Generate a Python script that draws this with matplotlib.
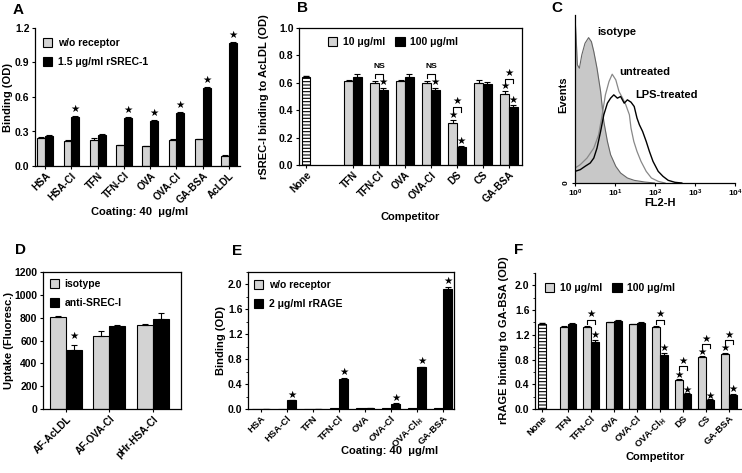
import matplotlib
matplotlib.use('Agg')
import matplotlib.pyplot as plt
import numpy as np
from matplotlib.patches import Patch
from matplotlib.ticker import MultipleLocator, FixedLocator

plt.rcParams['font.family'] = ['Liberation Sans', 'DejaVu Sans']
plt.rcParams['font.weight'] = 'bold'
plt.rcParams['axes.labelweight'] = 'bold'
plt.rcParams['font.size'] = 7.5
plt.rcParams['mathtext.fontset'] = 'custom'
plt.rcParams['mathtext.rm'] = 'Liberation Sans:bold'
plt.rcParams['mathtext.bf'] = 'Liberation Sans:bold'
plt.rcParams['mathtext.default'] = 'rm'
plt.rcParams['hatch.linewidth'] = 0.8
plt.rcParams['axes.linewidth'] = 0.9

GRAY = '#d3d3d3'

# ---- panel A
a_cats = ['HSA', 'HSA-Cl', 'TFN', 'TFN-Cl', 'OVA', 'OVA-Cl', 'GA-BSA', 'AcLDL']
a_ctrl = [0.24, 0.22, 0.23, 0.18, 0.17, 0.225, 0.235, 0.09]
a_ctrl_err = [0.008, 0.006, 0.012, 0.004, 0.004, 0.006, 0.004, 0.003]
a_rec = [0.26, 0.43, 0.27, 0.42, 0.39, 0.465, 0.68, 1.07]
a_rec_err = [0.006, 0.008, 0.006, 0.01, 0.01, 0.008, 0.006, 0.012]
a_star = [None, 0.50, None, 0.49, 0.46, 0.53, 0.75, 1.14]

# ---- panel B
b_cats = ['None', 'TFN', 'TFN-Cl', 'OVA', 'OVA-Cl', 'DS', 'CS', 'GA-BSA']
b_none, b_none_err = 0.64, 0.01
b_lo = [0.61, 0.60, 0.61, 0.60, 0.31, 0.60, 0.52]
b_lo_err = [0.012, 0.015, 0.012, 0.015, 0.02, 0.022, 0.02]
b_hi = [0.64, 0.55, 0.64, 0.55, 0.135, 0.59, 0.42]
b_hi_err = [0.025, 0.015, 0.025, 0.015, 0.004, 0.015, 0.02]

# ---- panel C (log10 FL2-H, events)
iso_log = [0, 0, 0.025, 0.06, 0.11, 0.17, 0.25, 0.34, 0.41, 0.47, 0.55, 0.64, 0.72,
           0.81, 0.89, 1.02, 1.14, 1.31, 1.48, 1.74, 1.99]
iso_ev = [0, 500, 445, 355, 345, 385, 420, 437, 425, 395, 345, 275, 185,
          125, 85, 50, 30, 15, 8, 3, 0]
unt_log = [0, 0.13, 0.30, 0.47, 0.59, 0.68, 0.76, 0.85, 0.93, 1.02, 1.10, 1.19, 1.27,
           1.36, 1.40, 1.47, 1.55, 1.65, 1.78, 1.91, 2.08, 2.25]
unt_ev = [45, 55, 75, 105, 145, 205, 265, 305, 327, 310, 275, 255, 235,
          205, 165, 125, 95, 65, 35, 15, 5, 0]
lps_log = [0, 0.13, 0.25, 0.38, 0.47, 0.55, 0.64, 0.72, 0.81, 0.89, 0.97, 1.06, 1.14,
           1.23, 1.31, 1.40, 1.48, 1.55, 1.61, 1.69, 1.78, 1.86, 1.95, 2.08, 2.20,
           2.33, 2.50, 2.67]
lps_ev = [35, 40, 50, 60, 75, 105, 155, 205, 240, 255, 265, 255, 260,
          240, 250, 243, 230, 195, 175, 155, 125, 95, 65, 35, 20,
          8, 2, 0]

# ---- panel D
d_cats = ['AF-AcLDL', 'AF-OVA-Cl', 'pHr-HSA-Cl']
d_iso = [810, 640, 740]
d_iso_err = [6, 45, 8]
d_anti = [515, 730, 790]
d_anti_err = [45, 8, 55]

# ---- panel E
e_cats = ['HSA', 'HSA-Cl', 'TFN', 'TFN-Cl', 'OVA', 'OVA-Cl', 'OVA-Cl$_{H}$', 'GA-BSA']
e_ctrl = [0.005, 0.008, 0.005, 0.01, 0.01, 0.015, 0.01, 0.02]
e_rec = [0.005, 0.14, 0.005, 0.48, 0.02, 0.08, 0.67, 1.93]
e_rec_err = [0.002, 0.005, 0.002, 0.02, 0.003, 0.01, 0.01, 0.03]
e_star = [None, 0.22, None, 0.60, None, 0.18, 0.77, 2.06]

# ---- panel F
f_cats = ['None', 'TFN', 'TFN-Cl', 'OVA', 'OVA-Cl', 'OVA-Cl$_{H}$', 'DS', 'CS', 'GA-BSA']
f_none, f_none_err = 1.38, 0.01
f_lo = [1.33, 1.33, 1.40, 1.37, 1.32, 0.47, 0.84, 0.89]
f_lo_err = [0.01, 0.015, 0.015, 0.01, 0.03, 0.01, 0.01, 0.01]
f_hi = [1.38, 1.09, 1.43, 1.39, 0.88, 0.25, 0.15, 0.23]
f_hi_err = [0.015, 0.02, 0.01, 0.01, 0.02, 0.01, 0.005, 0.01]

W, H = 742, 473
fig = plt.figure(figsize=(W / 100, H / 100), dpi=100)


def px_axes(l, t, r, b):
    return fig.add_axes([l / W, 1 - b / H, (r - l) / W, (b - t) / H])


def label_at(ax, axis, px, py):
    # ylabel: px is the label's right edge; xlabel: py is the label's top
    x, y = ax.transAxes.inverted().transform((px, H - py))
    if axis == 'x':
        ax.xaxis.set_label_coords(x, y)
    else:
        ax.yaxis.set_label_coords(x, y)


def style(ax, box=True):
    ax.tick_params(direction='out', length=2.5, width=0.8, pad=1.5, labelsize=7.5)
    ax.tick_params(axis='x', pad=1.0)
    ax.tick_params(which='minor', direction='out', length=1.5, width=0.6)
    if not box:
        ax.spines['top'].set_visible(False)
        ax.spines['right'].set_visible(False)


def bars(ax, x, vals, errs, color, w):
    ax.bar(x, vals, w, color=color, edgecolor='k', linewidth=0.8)
    if errs is not None:
        ax.errorbar(x, vals, yerr=[np.zeros(len(vals)), errs], fmt='none',
                    ecolor='k', elinewidth=0.8, capsize=2, capthick=0.8)


def star(ax, x, y):
    ax.text(x, y, '★', ha='center', va='center', fontsize=7.5, family='DejaVu Sans')


def bracket(ax, x1, x2, y, h):
    ax.plot([x1, x1, x2, x2], [y - h, y, y, y - h], color='k', lw=0.8)


def xcats(ax, pos, cats, size=7.2):
    ax.set_xticks(pos)
    ax.set_xticklabels(cats, rotation=45, ha='right', rotation_mode='anchor', fontsize=size)


def legend(ax, labels, colors, ncol, px, py, spacing):
    handles = [Patch(facecolor=c, edgecolor='k', linewidth=0.8) for c in colors]
    x, y = ax.transAxes.inverted().transform((px, H - py))
    ax.legend(handles, labels, loc='upper left', bbox_to_anchor=(x, y), frameon=False,
              ncol=ncol, handlelength=0.9, handleheight=0.9, handletextpad=0.5,
              labelspacing=spacing, columnspacing=1.0, borderpad=0, borderaxespad=0,
              fontsize=7.5)


# ================= A
ax = px_axes(35, 28, 240, 166)
style(ax, box=False)
xa = np.arange(len(a_cats))
bars(ax, xa - 0.15, a_ctrl, a_ctrl_err, GRAY, 0.3)
bars(ax, xa + 0.15, a_rec, a_rec_err, 'k', 0.3)
for i, s in enumerate(a_star):
    if s is not None:
        star(ax, xa[i] + 0.15, s)
ax.set_xlim(-0.39, 7.42)
ax.set_ylim(0, 1.2)
ax.set_yticks([0, 0.3, 0.6, 0.9, 1.2])
ax.set_yticklabels(['0.0', '0.3', '0.6', '0.9', '1.2'])
xcats(ax, xa, a_cats)
ax.set_ylabel('Binding (OD)', fontsize=8)
ax.set_xlabel('Coating: 40  μg/ml', fontsize=8)
label_at(ax, 'y', 13, 97)
label_at(ax, 'x', 140, 207)
legend(ax, ['w/o receptor', '1.5 μg/ml rSREC-1'], [GRAY, 'k'], 1, 43, 38, 0.85)

# ================= B
ax = px_axes(299, 28, 522, 165)
style(ax)
xb = 1.81 + np.arange(len(b_lo))
ax.bar([0], [b_none], 0.33, color='white', edgecolor='k', linewidth=0.8, hatch='-----')
ax.errorbar([0], [b_none], yerr=[[0], [b_none_err]], fmt='none', ecolor='k',
            elinewidth=0.8, capsize=2)
bars(ax, xb - 0.165, b_lo, b_lo_err, GRAY, 0.33)
bars(ax, xb + 0.165, b_hi, b_hi_err, 'k', 0.33)
for j in (1, 3):
    bracket(ax, xb[j] - 0.165, xb[j] + 0.165, 0.665, 0.03)
    ax.text(xb[j], 0.69, 'NS', ha='center', va='bottom', fontsize=6)
    star(ax, xb[j] + 0.165, 0.605)
star(ax, xb[4] - 0.165, 0.365)
star(ax, xb[4] + 0.165, 0.175)
bracket(ax, xb[4] - 0.165, xb[4] + 0.165, 0.42, 0.03)
star(ax, xb[4], 0.465)
star(ax, xb[6] - 0.165, 0.58)
star(ax, xb[6] + 0.165, 0.475)
bracket(ax, xb[6] - 0.165, xb[6] + 0.165, 0.625, 0.03)
star(ax, xb[6], 0.67)
ax.set_xlim(-0.27, 8.31)
ax.set_ylim(0, 1.0)
ax.set_yticks(np.arange(0, 1.01, 0.2))
ax.set_yticklabels(['0.0', '0.2', '0.4', '0.6', '0.8', '1.0'])
xcats(ax, np.concatenate([[0], xb]), b_cats)
ax.set_ylabel('rSREC-I binding to AcLDL (OD)', fontsize=8)
ax.set_xlabel('Competitor', fontsize=8)
label_at(ax, 'y', 269, 97)
label_at(ax, 'x', 410, 212)
legend(ax, ['10 μg/ml', '100 μg/ml'], [GRAY, 'k'], 2, 328, 37, 0.8)

# ================= C
ax = px_axes(575, 15, 735, 183)
ax.spines['top'].set_visible(False)
ax.spines['right'].set_visible(False)
ax.fill_between(10 ** np.array(iso_log), iso_ev, color='#c8c8c8', lw=0)
ax.plot(10 ** np.array(iso_log), iso_ev, color='#666666', lw=0.8)
ax.plot(10 ** np.array(unt_log), unt_ev, color='#888888', lw=0.9)
ax.plot(10 ** np.array(lps_log), lps_ev, color='k', lw=1.0)
ax.set_xscale('log')
ax.set_xlim(1, 1e4)
ax.set_ylim(0, 505)
ax.set_xticks([1, 10, 100, 1000, 10000])
ax.set_xticklabels(['10$^{0}$', '10$^{1}$', '10$^{2}$', '10$^{3}$', '10$^{4}$'])
ax.xaxis.set_minor_locator(FixedLocator([]))
ax.set_yticks([0])
ax.set_yticklabels(['0'], rotation=90, va='center')
ax.tick_params(direction='out', length=2.5, width=0.8, pad=1.2, labelsize=6)
ax.text(10 ** 0.55, 455, 'isotype', ha='left', va='center', fontsize=8)
ax.text(10 ** 1.1, 335, 'untreated', ha='left', va='center', fontsize=8)
ax.text(10 ** 1.5, 265, 'LPS-treated', ha='left', va='center', fontsize=8)
ax.set_xlabel('FL2-H', fontsize=8)
ax.set_ylabel('Events', fontsize=8)
label_at(ax, 'x', 660, 198)
label_at(ax, 'y', 568, 95)

# ================= D
ax = px_axes(43, 272, 181, 409)
style(ax)
xd = np.arange(len(d_cats))
bars(ax, xd - 0.185, d_iso, d_iso_err, GRAY, 0.37)
bars(ax, xd + 0.185, d_anti, d_anti_err, 'k', 0.37)
star(ax, xd[0] + 0.185, 640)
ax.set_xlim(-0.53, 2.65)
ax.set_ylim(0, 1200)
ax.set_yticks(np.arange(0, 1201, 200))
xcats(ax, xd, d_cats)
ax.set_ylabel('Uptake (Fluoresc.)', fontsize=8)
label_at(ax, 'y', 14, 340)
legend(ax, ['isotype', 'anti-SREC-I'], [GRAY, 'k'], 1, 50, 279, 0.85)

# ================= E
ax = px_axes(248, 272, 454, 409)
style(ax)
xe = np.arange(len(e_cats))
bars(ax, xe - 0.175, e_ctrl, None, GRAY, 0.35)
bars(ax, xe + 0.175, e_rec, e_rec_err, 'k', 0.35)
for i, s in enumerate(e_star):
    if s is not None:
        star(ax, xe[i] + 0.175, s)
ax.set_xlim(-0.5, 7.42)
ax.set_ylim(0, 2.2)
ax.set_yticks(np.arange(0, 2.01, 0.4))
ax.set_yticklabels(['0.0', '0.4', '0.8', '1.2', '1.6', '2.0'])
ax.yaxis.set_minor_locator(MultipleLocator(0.2))
xcats(ax, xe, e_cats, 6.8)
ax.set_ylabel('Binding (OD)', fontsize=8)
ax.set_xlabel('Coating: 40  μg/ml', fontsize=8)
label_at(ax, 'y', 226, 340)
label_at(ax, 'x', 390, 446)
legend(ax, ['w/o receptor', '2 μg/ml rRAGE'], [GRAY, 'k'], 1, 254, 280, 0.85)

# ================= F
ax = px_axes(535, 273, 741, 409)
style(ax, box=False)
xf = 1.13 + np.arange(len(f_lo))
ax.bar([0], [f_none], 0.35, color='white', edgecolor='k', linewidth=0.8, hatch='-----')
ax.errorbar([0], [f_none], yerr=[[0], [f_none_err]], fmt='none', ecolor='k',
            elinewidth=0.8, capsize=2)
bars(ax, xf - 0.175, f_lo, f_lo_err, GRAY, 0.35)
bars(ax, xf + 0.175, f_hi, f_hi_err, 'k', 0.35)
for j, top, blk in [(1, 1.44, 1.20), (4, 1.44, 0.98)]:
    bracket(ax, xf[j] - 0.175, xf[j] + 0.175, top, 0.06)
    star(ax, xf[j], top + 0.1)
    star(ax, xf[j] + 0.175, blk)
for j, gs, top, blk in [(5, 0.55, 0.69, 0.31), (6, 0.93, 1.05, 0.21), (7, 0.99, 1.11, 0.32)]:
    star(ax, xf[j] - 0.175, gs)
    bracket(ax, xf[j] - 0.175, xf[j] + 0.175, top, 0.06)
    star(ax, xf[j], top + 0.09)
    star(ax, xf[j] + 0.175, blk)
ax.set_xlim(-0.3, 8.65)
ax.set_ylim(0, 2.2)
ax.set_yticks(np.arange(0, 2.01, 0.4))
ax.set_yticklabels(['0.0', '0.4', '0.8', '1.2', '1.6', '2.0'])
ax.yaxis.set_minor_locator(MultipleLocator(0.2))
xcats(ax, np.concatenate([[0], xf]), f_cats, 6.8)
ax.set_ylabel('rRAGE binding to GA-BSA (OD)', fontsize=8)
ax.set_xlabel('Competitor', fontsize=8)
label_at(ax, 'y', 509, 340)
label_at(ax, 'x', 655, 452)
legend(ax, ['10 μg/ml', '100 μg/ml'], [GRAY, 'k'], 2, 545, 283, 0.8)

for s, x, y in [('A', 18, 10), ('B', 303, 8), ('C', 557, 8), ('D', 20, 250), ('E', 237, 251), ('F', 519, 250)]:
    fig.text(x / W, 1 - y / H, s, ha='center', va='center', fontsize=11, fontweight='bold')

fig.savefig('out.png', dpi=100)
